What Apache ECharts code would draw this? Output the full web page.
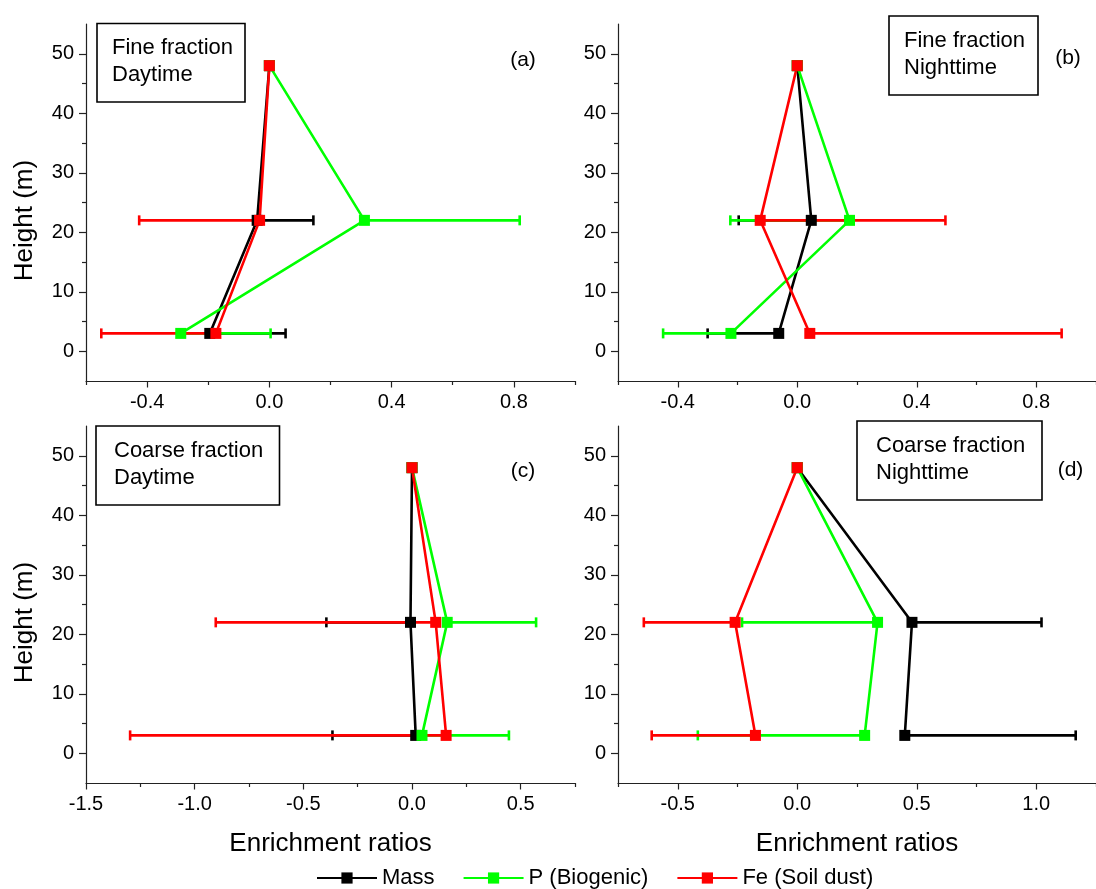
<!DOCTYPE html>
<html>
<head>
<meta charset="utf-8">
<script src="https://cdn.jsdelivr.net/npm/echarts@6/dist/echarts.min.js"></script>
<style>
  html, body { margin: 0; padding: 0; background: #fff; }
  #chart { width: 1096px; height: 889px; }
</style>
</head>
<body>
<div id="chart"></div>
<script>
// Sampling heights (m); the 48 m level is the reference level
const heights = [3, 22, 48];

// (a) fine fraction, daytime
const massFineDay = [-0.195, -0.04, 0];
const pFineDay    = [-0.29, 0.311, 0];
const feFineDay   = [-0.175, -0.032, 0];
const massFineDayErr = [0.053, 0.144];
const pFineDayErr    = [0.004, 0.819];
const feFineDayErr   = [-0.55, -0.426];

// (b) fine fraction, nighttime
const massFineNight = [-0.062, 0.047, 0];
const pFineNight    = [-0.222, 0.175, 0];
const feFineNight   = [0.042, -0.124, 0];
const massFineNightErr = [-0.30, -0.196];
const pFineNightErr    = [-0.449, -0.224];
const feFineNightErr   = [0.885, 0.496];

// (c) coarse fraction, daytime
const massCoarseDay = [0.017, -0.007, 0];
const pCoarseDay    = [0.046, 0.162, 0];
const feCoarseDay   = [0.157, 0.109, 0];
const massCoarseDayErr = [-0.366, -0.394];
const pCoarseDayErr    = [0.446, 0.571];
const feCoarseDayErr   = [-1.297, -0.903];

// (d) coarse fraction, nighttime
const massCoarseNight = [0.45, 0.48, 0];
const pCoarseNight    = [0.282, 0.336, 0];
const feCoarseNight   = [-0.175, -0.26, 0];
const massCoarseNightErr = [1.165, 1.022];
const pCoarseNightErr    = [-0.416, -0.231];
const feCoarseNightErr   = [-0.609, -0.642];

// Tick values
const fineMajorX = [-0.4, 0, 0.4, 0.8];
const fineMinorX = [-0.6, -0.2, 0.2, 0.6, 1.0];
const coarseDayMajorX = [-1.5, -1.0, -0.5, 0, 0.5];
const coarseDayMinorX = [-1.25, -0.75, -0.25, 0.25, 0.75];
const coarseNightMajorX = [-0.5, 0, 0.5, 1.0];
const coarseNightMinorX = [-0.75, -0.25, 0.25, 0.75, 1.25];
const heightMajor = [0, 10, 20, 30, 40, 50];
const heightMinor = [5, 15, 25, 35, 45];

const seriesNames = ['Mass', 'P (Biogenic)', 'Fe (Soil dust)'];
const seriesColors = ['#000000', '#00ff00', '#ff0000'];
const panelLetters = ['(a)', '(b)', '(c)', '(d)'];
const panelTitles = ['Fine fraction\nDaytime', 'Fine fraction\nNighttime',
                     'Coarse fraction\nDaytime', 'Coarse fraction\nNighttime'];

const FONT = 'Liberation Sans, Arial, Helvetica, sans-serif';

const panels = [
  { values: [massFineDay, pFineDay, feFineDay], errs: [massFineDayErr, pFineDayErr, feFineDayErr],
    xMin: -0.6, xMax: 1.0, xStep: 0.2, major: fineMajorX, minor: fineMinorX,
    grid: { left: 86, top: 24, width: 489, height: 357 }, yName: true, xName: false },
  { values: [massFineNight, pFineNight, feFineNight], errs: [massFineNightErr, pFineNightErr, feFineNightErr],
    xMin: -0.6, xMax: 1.0, xStep: 0.2, major: fineMajorX, minor: fineMinorX,
    grid: { left: 618, top: 24, width: 488, height: 357 }, yName: false, xName: false },
  { values: [massCoarseDay, pCoarseDay, feCoarseDay], errs: [massCoarseDayErr, pCoarseDayErr, feCoarseDayErr],
    xMin: -1.5, xMax: 0.75, xStep: 0.25, major: coarseDayMajorX, minor: coarseDayMinorX,
    grid: { left: 86, top: 426, width: 489, height: 357 }, yName: true, xName: true },
  { values: [massCoarseNight, pCoarseNight, feCoarseNight], errs: [massCoarseNightErr, pCoarseNightErr, feCoarseNightErr],
    xMin: -0.75, xMax: 1.25, xStep: 0.25, major: coarseNightMajorX, minor: coarseNightMinorX,
    grid: { left: 618, top: 426, width: 488, height: 357 }, yName: false, xName: true }
];

const axisLineStyle = { color: '#222', width: 1.2 };
const LINE_W = 2.6;
const fmt = v => (Math.abs(v) < 1e-9 ? 0 : v).toFixed(1);

// horizontal one-sided error bar with an end cap
function errorBarItem(params, api) {
  const h = api.value(1);
  const a = api.coord([api.value(0), h]);
  const b = api.coord([api.value(2), h]);
  const cap = 5;
  const style = { stroke: api.visual('color'), lineWidth: LINE_W };
  return {
    type: 'group',
    children: [
      { type: 'line', shape: { x1: a[0], y1: a[1], x2: b[0], y2: b[1] }, style: style },
      { type: 'line', shape: { x1: b[0], y1: b[1] - cap, x2: b[0], y2: b[1] + cap }, style: style }
    ]
  };
}

const grids = [], xAxes = [], yAxes = [], series = [], graphics = [];

panels.forEach((p, g) => {
  grids.push(Object.assign({ containLabel: false }, p.grid));

  // main x axis: line + minor ticks
  xAxes.push({
    type: 'value', gridIndex: g, position: 'bottom',
    min: p.xMin, max: p.xMax, interval: p.xStep,
    axisLine: { show: true, onZero: false, lineStyle: axisLineStyle },
    axisTick: { show: true, inside: false, length: 4, customValues: p.minor, lineStyle: axisLineStyle },
    axisLabel: { show: false },
    splitLine: { show: false },
    name: p.xName ? 'Enrichment ratios' : '',
    nameLocation: 'middle', nameGap: 48,
    nameTextStyle: { fontSize: 26, color: '#000', fontFamily: FONT }
  });
  // companion x axis: labelled major ticks
  xAxes.push({
    type: 'value', gridIndex: g, position: 'bottom',
    min: p.xMin, max: p.xMax, interval: p.xStep,
    axisLine: { show: false, onZero: false },
    axisTick: { show: true, inside: false, length: 6.5, customValues: p.major, lineStyle: axisLineStyle },
    axisLabel: { show: true, customValues: p.major, formatter: fmt, fontSize: 20, color: '#000', margin: 11, fontFamily: FONT },
    splitLine: { show: false }
  });

  yAxes.push({
    type: 'value', gridIndex: g, position: 'left',
    min: -5, max: 55, interval: 5,
    axisLine: { show: true, onZero: false, lineStyle: axisLineStyle },
    axisTick: { show: true, inside: false, length: 4, customValues: heightMinor, lineStyle: axisLineStyle },
    axisLabel: { show: false },
    splitLine: { show: false },
    name: p.yName ? 'Height (m)' : '',
    nameLocation: 'middle', nameGap: 48,
    nameTextStyle: { fontSize: 26, color: '#000', fontFamily: FONT, padding: [0, 36, 0, 0] }
  });
  yAxes.push({
    type: 'value', gridIndex: g, position: 'left',
    min: -5, max: 55, interval: 5,
    axisLine: { show: false, onZero: false },
    axisTick: { show: true, inside: false, length: 7, customValues: heightMajor, lineStyle: axisLineStyle },
    axisLabel: { show: true, customValues: heightMajor, fontSize: 20, color: '#000', margin: 12, fontFamily: FONT },
    splitLine: { show: false }
  });

  const xi = 2 * g, yi = 2 * g;

  // error bars beneath the profiles
  p.values.forEach((vals, s) => {
    const errs = p.errs[s];
    series.push({
      type: 'custom',
      name: seriesNames[s] + ' error',
      xAxisIndex: xi, yAxisIndex: yi,
      z: 2,
      itemStyle: { color: seriesColors[s] },
      renderItem: errorBarItem,
      encode: { x: [0, 2], y: 1 },
      data: errs.map((e, i) => [vals[i], heights[i], e]),
      silent: true
    });
  });

  // vertical profiles
  p.values.forEach((vals, s) => {
    series.push({
      type: 'line',
      name: seriesNames[s],
      xAxisIndex: xi, yAxisIndex: yi,
      z: 3,
      symbol: 'rect', symbolSize: 11, showSymbol: true,
      lineStyle: { width: LINE_W, color: seriesColors[s] },
      itemStyle: { color: seriesColors[s] },
      data: vals.map((v, i) => [v, heights[i]])
    });
  });
});

// panel annotation boxes and letters
const boxes = [
  { x: 97, y: 23.5, w: 148, h: 78.5, tx: 112, ty: 34 },
  { x: 889, y: 16, w: 149, h: 79, tx: 904, ty: 27 },
  { x: 96, y: 426, w: 183.5, h: 79, tx: 114, ty: 437 },
  { x: 857, y: 421, w: 185, h: 79, tx: 876, ty: 432.5 }
];
const letterPos = [[523, 60], [1068, 58.5], [523, 471], [1070.5, 470]];

boxes.forEach((b, i) => {
  graphics.push({
    type: 'rect', z: 10,
    shape: { x: b.x, y: b.y, width: b.w, height: b.h },
    style: { fill: '#fff', stroke: '#000', lineWidth: 1.6 }
  });
  graphics.push({
    type: 'text', z: 11,
    x: b.tx, y: b.ty,
    style: { text: panelTitles[i], font: '22px ' + FONT, fill: '#000', lineHeight: 27, verticalAlign: 'top', align: 'left' }
  });
  graphics.push({
    type: 'text', z: 11,
    x: letterPos[i][0], y: letterPos[i][1],
    style: { text: panelLetters[i], font: '21px ' + FONT, fill: '#000', align: 'center', verticalAlign: 'middle' }
  });
});

const chart = echarts.init(document.getElementById('chart'), null, { renderer: 'canvas' });
chart.setOption({
  animation: false,
  backgroundColor: '#fff',
  textStyle: { fontFamily: FONT },
  grid: grids,
  xAxis: xAxes,
  yAxis: yAxes,
  legend: {
    data: seriesNames,
    left: 316, top: 867, padding: 0,
    itemWidth: 60, itemHeight: 14, itemGap: 28,
    selectedMode: false,
    textStyle: { fontSize: 22, color: '#000', fontFamily: FONT }
  },
  graphic: graphics,
  series: series
});
</script>
</body>
</html>
